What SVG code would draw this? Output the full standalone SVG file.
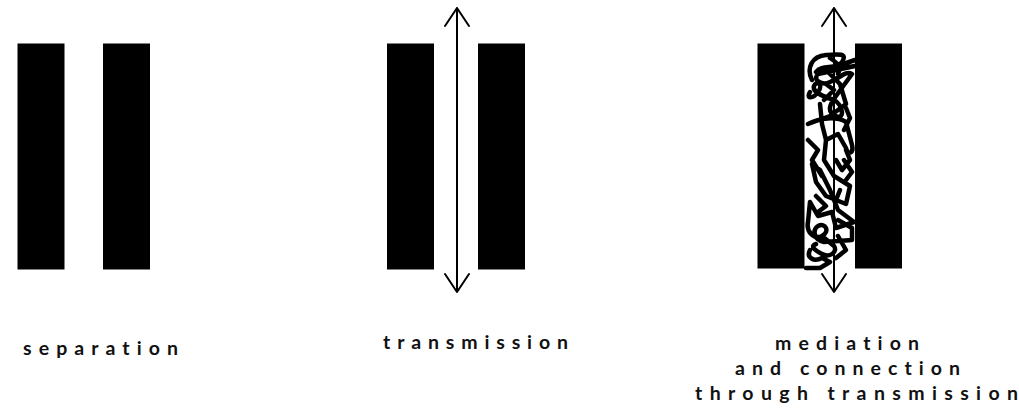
<svg xmlns="http://www.w3.org/2000/svg" width="1019" height="409" viewBox="0 0 1019 409">
<style>
.bar{fill:#000}
.arrow{stroke:#000;stroke-width:2;fill:none;stroke-linecap:round;stroke-linejoin:round}
.scribble{stroke:#000;stroke-width:4.5;fill:none;stroke-linecap:round;stroke-linejoin:round}
.lbl{font-family:Lato,"Noto Sans",sans-serif;font-weight:700;font-size:19.5px;fill:#111;font-variant-ligatures:none;font-feature-settings:"liga" 0}
</style>
<rect width="1019" height="409" fill="#fff"/>
<g id="separation">
<rect class="bar" x="17.5" y="43.5" width="47" height="226"/>
<rect class="bar" x="103" y="43.5" width="47" height="226"/>
<text class="lbl" x="23" y="355" textLength="155" lengthAdjust="spacing">separation</text>
</g>
<g id="transmission">
<rect class="bar" x="387" y="43.5" width="47" height="226"/>
<rect class="bar" x="478" y="43.5" width="47" height="226"/>
<text class="lbl" x="383" y="349" textLength="185" lengthAdjust="spacing">transmission</text>
</g>
<g id="mediation">
<rect class="bar" x="757.5" y="43.5" width="47" height="225"/>
<rect class="bar" x="855" y="43.5" width="47" height="225"/>
<path class="scribble" d="M812 80 C806 68 812 56 826 55 C838 54 848 53 842 62 C836 70 822 64 816 72 L855 66 L818 74 C812 80 822 86 830 82 C840 78 846 70 852 74 L836 96 C830 104 826 112 836 116 C846 120 842 104 834 100 C822 96 812 92 814 86 C816 80 824 84 818 92 C812 100 806 98 810 92 M855 60 L826 70 L840 84 L846 104 L830 116 L808 124 C820 118 836 116 846 122 L852 145 C854 153 848 156 846 148 L838 134 L826 140 L822 124 L820 104 M826 140 L824 160 L834 176 L850 186 L846 204 L826 196 L816 182 L812 164 L820 170 L830 190 L838 210 L854 222 L836 228 L832 212 L818 216 L810 202 L808 222 C806 232 814 240 822 236 C830 232 826 222 818 226 C812 230 814 240 824 242 L852 240 L852 228 L838 220 M822 236 L834 246 C838 252 830 258 822 254 C814 250 810 246 816 244 M810 250 C806 258 814 262 822 258 L830 262 L820 268 L806 268 M846 150 L850 160 L842 170 L836 160 M840 190 L836 200 M808 140 L818 150 L812 160 L822 176 M844 130 L850 118 L846 108 M830 58 C836 62 842 66 838 74 M826 84 L834 90 L824 100 M844 160 L852 172 L846 180 M816 196 L826 206 L818 212 M838 236 L846 250 L836 258"/>
</g>
<g id="connectors">
<path class="arrow" d="M457 8 L457 292 M445 26 L457 8 L469 26 M445 274 L457 292 L469 274"/>
<path class="arrow" d="M834 8 L834 292 M822 26 L834 8 L846 26 M822 274 L834 292 L846 274"/>
</g>
<g id="labels3">
<text class="lbl" x="775" y="350" textLength="144" lengthAdjust="spacing">mediation</text>
<text class="lbl" x="735" y="375" textLength="225" lengthAdjust="spacing">and connection</text>
<text class="lbl" x="695" y="400" textLength="323" lengthAdjust="spacing">through transmission</text>
</g>
</svg>
